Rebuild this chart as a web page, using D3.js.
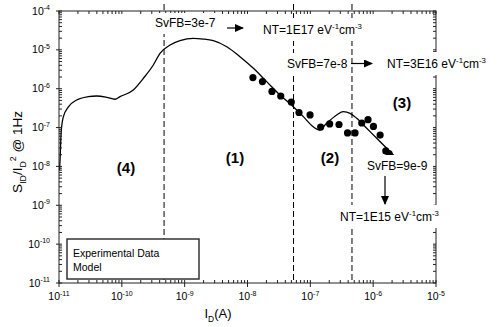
<!DOCTYPE html>
<html>
<head>
<meta charset="utf-8">
<script src="https://cdn.jsdelivr.net/npm/d3@7"></script>
<style>
    body { margin: 0; background: #fff; }
    svg { font-family: Arial, "Liberation Sans", sans-serif; }
</style>
</head>
<body>
<svg id="chart" width="497" height="327"></svg>
<script>
// tick decades
const xTickExps = [-11, -10, -9, -8, -7, -6, -5];
const yTickExps = [-11, -10, -9, -8, -7, -6, -5, -4];

// experimental points
const dataI = [1.22e-8, 1.73e-8, 2.45e-8, 3.38e-8, 4.98e-8, 6.6e-8, 9.9e-8, 1.46e-7, 2.03e-7,
    2.86e-7, 3.91e-7, 5.14e-7, 6.58e-7, 8.28e-7, 1.01e-6, 1.29e-6, 1.59e-6, 1.79e-6];
const dataS = [1.94e-6, 1.53e-6, 8.5e-7, 6.5e-7, 4.55e-7, 2.44e-7, 2.11e-7, 1.03e-7, 1.24e-7,
    1.2e-7, 7.3e-8, 7.3e-8, 1.31e-7, 1.6e-7, 1.07e-7, 6.4e-8, 2.5e-8, 2.15e-8];

// model curve
const modelI = [1.02e-11, 1.04e-11, 1.08e-11, 1.17e-11, 1.41e-11, 1.91e-11, 2.92e-11, 3.98e-11,
    5.74e-11, 7.78e-11, 9.35e-11, 1.52e-10, 2.2e-10, 3.17e-10, 4.05e-10, 5.85e-10, 8.43e-10,
    1.37e-9, 1.98e-9, 2.86e-9, 4.67e-9, 7.59e-9, 1.24e-8, 2.02e-8, 3.29e-8, 5.36e-8, 7.73e-8,
    1.11e-7, 1.39e-7, 1.82e-7, 2.63e-7, 3.35e-7, 4.29e-7, 5.47e-7, 7.89e-7, 1.14e-6, 1.64e-6, 2.23e-6];
const modelS = [8.1e-9, 1.48e-8, 7.2e-8, 1.87e-7, 3.39e-7, 5.13e-7, 6.24e-7, 6.5e-7,
    6.01e-7, 5.35e-7, 6.24e-7, 9.27e-7, 1.85e-6, 4.07e-6, 8.15e-6, 1.33e-5, 1.72e-5,
    1.98e-5, 1.9e-5, 1.72e-5, 1.2e-5, 6.67e-6, 3.35e-6, 1.52e-6, 6.89e-7, 3.44e-7, 1.91e-7,
    1.05e-7, 8.67e-8, 1.29e-7, 2.11e-7, 2.56e-7, 2.33e-7, 1.73e-7, 9.57e-8, 5.3e-8, 2.93e-8, 1.78e-8];

// region boundaries
const boundaryI = [4.7e-10, 5.4e-8, 4.6e-7];

const svg = d3.select('#chart');
const plotL = 59, plotR = 436, plotT = 11, plotB = 283;

const x = d3.scaleLog().domain([1e-11, 1e-5]).range([plotL, plotR]);
const y = d3.scaleLog().domain([1e-11, 1e-4]).range([plotB, plotT]);

// arrow head
svg.append('defs').append('marker')
    .attr('id', 'head')
    .attr('markerUnits', 'userSpaceOnUse')
    .attr('markerWidth', 9).attr('markerHeight', 8)
    .attr('refX', 8).attr('refY', 4)
    .attr('orient', 'auto')
    .append('path')
    .attr('d', 'M0,0 L9,4 L0,8 z')
    .attr('fill', '#000');

// dashed region boundaries
svg.append('g').selectAll('line')
    .data(boundaryI)
    .enter().append('line')
    .attr('x1', d => x(d)).attr('x2', d => x(d))
    .attr('y1', 4).attr('y2', plotB)
    .attr('stroke', '#000')
    .attr('stroke-width', 1)
    .attr('stroke-dasharray', '6,3');

// model
const line = d3.line()
    .x(d => x(d[0]))
    .y(d => y(d[1]))
    .curve(d3.curveMonotoneX);

svg.append('path')
    .datum(d3.zip(modelI, modelS))
    .attr('d', line)
    .attr('fill', 'none')
    .attr('stroke', '#000')
    .attr('stroke-width', 1.3);

// experimental data
svg.append('g').selectAll('circle')
    .data(d3.zip(dataI, dataS))
    .enter().append('circle')
    .attr('cx', d => x(d[0]))
    .attr('cy', d => y(d[1]))
    .attr('r', 3.6)
    .attr('fill', '#000');

// axes frame + ticks
const minors = [];
for (let e = -11; e < -4; e++) {
    for (let k = 2; k <= 9; k++) minors.push(k * Math.pow(10, e));
}
const xMinors = minors.filter(v => v > 1e-11 && v < 1e-5);
const yMinors = minors.filter(v => v > 1e-11 && v < 1e-4);

const axis = svg.append('g').attr('stroke', '#222').attr('stroke-width', 1);
axis.append('rect')
    .attr('x', plotL).attr('y', plotT)
    .attr('width', plotR - plotL).attr('height', plotB - plotT)
    .attr('fill', 'none');

function ticks(vals, scale, horiz, len, out) {
    vals.forEach(v => {
        const p = scale(v);
        if (horiz) {
            axis.append('line').attr('x1', p).attr('x2', p).attr('y1', plotB - len).attr('y2', plotB + out);
            axis.append('line').attr('x1', p).attr('x2', p).attr('y1', plotT).attr('y2', plotT + len);
        } else {
            axis.append('line').attr('y1', p).attr('y2', p).attr('x1', plotL - out).attr('x2', plotL + len);
            axis.append('line').attr('y1', p).attr('y2', p).attr('x1', plotR - len).attr('x2', plotR);
        }
    });
}
ticks(xTickExps.map(e => Math.pow(10, e)), x, true, 3, 4);
ticks(xMinors, x, true, 3, 0);
ticks(yTickExps.map(e => Math.pow(10, e)), y, false, 3, 3);
ticks(yMinors, y, false, 3, 0);

// text with sub / superscripts
function richText(g, px, py, parts, size, anchor, weight) {
    const t = g.append('text')
        .attr('x', px).attr('y', py)
        .attr('font-size', size)
        .attr('text-anchor', anchor || 'start')
        .attr('font-weight', weight || 'normal')
        .attr('fill', '#000');
    let shift = 0;
    parts.forEach(p => {
        const small = p.sup || p.sub;
        const target = p.sup ? -size * 0.42 : (p.sub ? size * 0.3 : 0);
        t.append('tspan')
            .attr('dy', target - shift)
            .attr('font-size', small ? (p.size || size * 0.65) : size)
            .text(p.t);
        shift = target;
    });
    return t;
}

// tick labels
const labels = svg.append('g');
xTickExps.forEach(e => {
    richText(labels, x(Math.pow(10, e)), 300, [{t: '10'}, {t: String(e), sup: true, size: 7}], 10.5, 'middle');
});
yTickExps.forEach(e => {
    richText(labels, 50, y(Math.pow(10, e)) + 3.5, [{t: '10'}, {t: String(e), sup: true, size: 7}], 10.5, 'end');
});

// axis titles
richText(svg, 218, 318, [{t: 'I'}, {t: 'D', sub: true}, {t: '(A)'}], 13, 'middle');
const yTitle = richText(svg, 0, 0,
    [{t: 'S'}, {t: 'ID', sub: true}, {t: '/I'}, {t: 'D', sub: true}, {t: '2', sup: true}, {t: ' @ 1Hz'}], 13.5, 'middle');
yTitle.attr('transform', 'translate(22,152) rotate(-90)');

// annotations with white background
const notes = svg.append('g');
function note(px, py, parts, size, anchor) {
    const g = notes.append('g');
    const t = richText(g, px, py, parts, size, anchor);
    const b = t.node().getBBox();
    const y0 = Math.max(b.y - 4, 13);
    g.insert('rect', 'text')
        .attr('x', b.x - 2).attr('y', y0)
        .attr('width', b.width + 4)
        .attr('height', b.y + b.height + 4 - y0)
        .attr('fill', '#fff');
}
const nt = (v) => [{t: 'NT=' + v + ' eV'}, {t: '-1', sup: true}, {t: 'cm'}, {t: '-3', sup: true}];

note(155, 27, [{t: 'SvFB=3e-7'}], 12);
note(263, 34, nt('1E17'), 12);
note(287, 68, [{t: 'SvFB=7e-8'}], 12);
note(387, 68, nt('3E16'), 12);
note(367, 170, [{t: 'SvFB=9e-9'}], 12);
note(340, 221, nt('1E15'), 12);

// arrows
const arrows = [[227, 28, 243, 28], [351, 63.5, 372, 63.5], [385, 176, 385, 204]];
svg.append('g').selectAll('line')
    .data(arrows)
    .enter().append('line')
    .attr('x1', d => d[0]).attr('y1', d => d[1])
    .attr('x2', d => d[2]).attr('y2', d => d[3])
    .attr('stroke', '#000')
    .attr('stroke-width', 1.2)
    .attr('marker-end', 'url(#head)');

// region labels
const regionText = ['(4)', '(1)', '(2)', '(3)'];
const regionPos = [[126, 173], [235, 163], [330, 163], [402, 108]];
regionText.forEach((r, i) => {
    svg.append('text')
        .attr('x', regionPos[i][0]).attr('y', regionPos[i][1])
        .attr('text-anchor', 'middle')
        .attr('font-size', 15)
        .attr('font-weight', 'bold')
        .text(r);
});

// legend
const legend = svg.append('g');
legend.append('rect')
    .attr('x', 67).attr('y', 239)
    .attr('width', 132).attr('height', 40)
    .attr('fill', '#fff')
    .attr('stroke', '#333')
    .attr('stroke-width', 1.5);
legend.append('text').attr('x', 73).attr('y', 257).attr('font-size', 10.5).text('Experimental Data');
legend.append('text').attr('x', 73).attr('y', 271).attr('font-size', 10.5).text('Model');
</script>
</body>
</html>
